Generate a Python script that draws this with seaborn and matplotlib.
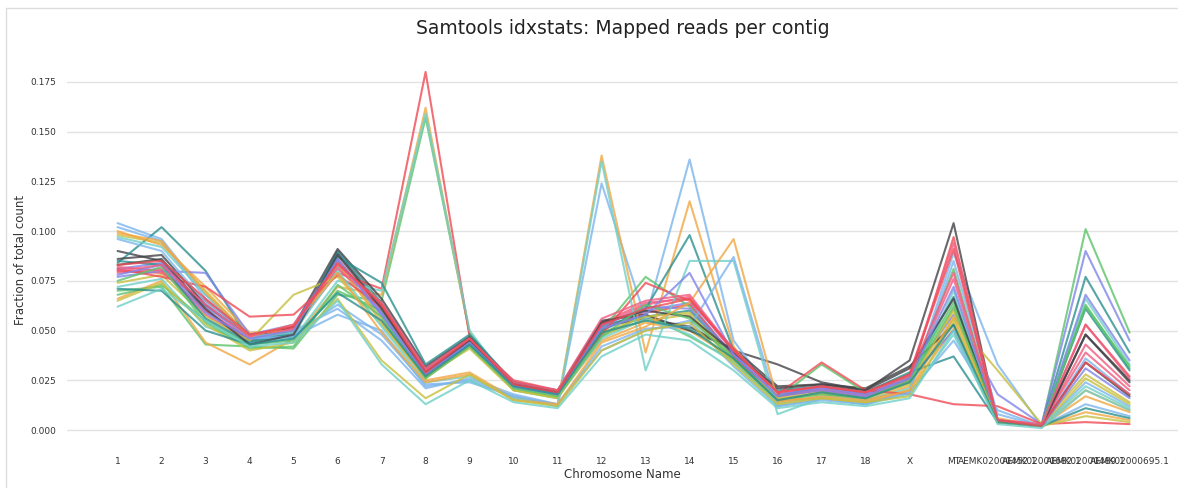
import numpy as np
import pandas as pd
import matplotlib
matplotlib.use("Agg")
import matplotlib.pyplot as plt
from matplotlib.lines import Line2D
import seaborn as sns

categories = [str(i) for i in range(1, 19)] + ["X", "MT", "AEMK02000452.1", "AEMK02000682.1",
                                               "AEMK02000489.1", "AEMK02000695.1"]

s00 = [0.104, 0.096, 0.068, 0.048, 0.050, 0.061, 0.045, 0.021, 0.026, 0.018, 0.013, 0.040, 0.050, 0.055, 0.032, 0.012, 0.016, 0.013, 0.020, 0.089, 0.033, 0.002, 0.024, 0.012]
s01 = [0.090, 0.085, 0.060, 0.045, 0.050, 0.089, 0.062, 0.028, 0.044, 0.022, 0.018, 0.052, 0.056, 0.052, 0.040, 0.033, 0.024, 0.020, 0.035, 0.104, 0.004, 0.002, 0.048, 0.025]
s02 = [0.070, 0.072, 0.043, 0.042, 0.041, 0.068, 0.065, 0.157, 0.049, 0.020, 0.016, 0.047, 0.058, 0.047, 0.035, 0.014, 0.019, 0.016, 0.024, 0.081, 0.005, 0.002, 0.101, 0.049]
s03 = [0.066, 0.075, 0.044, 0.033, 0.046, 0.072, 0.068, 0.162, 0.048, 0.021, 0.017, 0.045, 0.054, 0.050, 0.036, 0.016, 0.018, 0.015, 0.022, 0.061, 0.004, 0.002, 0.020, 0.010]
s04 = [0.081, 0.084, 0.062, 0.046, 0.050, 0.082, 0.058, 0.027, 0.043, 0.021, 0.018, 0.050, 0.060, 0.064, 0.037, 0.017, 0.021, 0.018, 0.027, 0.058, 0.018, 0.003, 0.090, 0.045]
s05 = [0.079, 0.081, 0.058, 0.045, 0.052, 0.086, 0.060, 0.030, 0.045, 0.022, 0.019, 0.054, 0.064, 0.066, 0.039, 0.018, 0.021, 0.018, 0.026, 0.076, 0.004, 0.002, 0.043, 0.022]
s06 = [0.098, 0.094, 0.070, 0.047, 0.049, 0.083, 0.056, 0.026, 0.042, 0.020, 0.016, 0.048, 0.055, 0.058, 0.034, 0.015, 0.019, 0.016, 0.023, 0.056, 0.030, 0.003, 0.028, 0.014]
s07 = [0.084, 0.102, 0.080, 0.045, 0.047, 0.090, 0.064, 0.031, 0.046, 0.023, 0.018, 0.053, 0.057, 0.060, 0.038, 0.017, 0.022, 0.019, 0.028, 0.067, 0.005, 0.002, 0.077, 0.039]
s08 = [0.080, 0.079, 0.065, 0.048, 0.051, 0.079, 0.071, 0.180, 0.047, 0.024, 0.019, 0.051, 0.059, 0.063, 0.037, 0.017, 0.020, 0.017, 0.025, 0.097, 0.005, 0.002, 0.053, 0.027]
s09 = [0.072, 0.076, 0.052, 0.044, 0.046, 0.075, 0.070, 0.159, 0.050, 0.021, 0.017, 0.046, 0.056, 0.048, 0.034, 0.013, 0.017, 0.015, 0.021, 0.070, 0.004, 0.002, 0.066, 0.033]
s10 = [0.102, 0.095, 0.066, 0.046, 0.048, 0.063, 0.048, 0.023, 0.024, 0.017, 0.012, 0.124, 0.056, 0.136, 0.045, 0.015, 0.016, 0.014, 0.019, 0.085, 0.008, 0.002, 0.036, 0.018]
s11 = [0.086, 0.088, 0.063, 0.047, 0.052, 0.091, 0.066, 0.032, 0.047, 0.024, 0.020, 0.055, 0.058, 0.050, 0.041, 0.022, 0.023, 0.021, 0.032, 0.053, 0.004, 0.002, 0.034, 0.017]
s12 = [0.068, 0.073, 0.055, 0.043, 0.045, 0.070, 0.060, 0.029, 0.044, 0.023, 0.018, 0.050, 0.077, 0.062, 0.036, 0.016, 0.033, 0.019, 0.027, 0.064, 0.005, 0.002, 0.063, 0.031]
s13 = [0.100, 0.093, 0.072, 0.049, 0.050, 0.084, 0.054, 0.025, 0.029, 0.016, 0.013, 0.138, 0.039, 0.115, 0.042, 0.014, 0.017, 0.015, 0.020, 0.051, 0.006, 0.002, 0.017, 0.009]
s14 = [0.077, 0.080, 0.079, 0.048, 0.053, 0.085, 0.059, 0.028, 0.043, 0.022, 0.019, 0.052, 0.062, 0.061, 0.038, 0.018, 0.021, 0.018, 0.026, 0.050, 0.004, 0.002, 0.068, 0.035]
s15 = [0.082, 0.080, 0.060, 0.046, 0.051, 0.081, 0.063, 0.030, 0.046, 0.023, 0.019, 0.053, 0.063, 0.067, 0.040, 0.019, 0.022, 0.019, 0.028, 0.094, 0.005, 0.003, 0.039, 0.020]
s16 = [0.074, 0.078, 0.057, 0.045, 0.068, 0.077, 0.053, 0.027, 0.041, 0.020, 0.017, 0.049, 0.057, 0.059, 0.035, 0.016, 0.019, 0.016, 0.024, 0.060, 0.004, 0.002, 0.026, 0.013]
s17 = [0.085, 0.083, 0.056, 0.044, 0.049, 0.087, 0.074, 0.033, 0.048, 0.024, 0.019, 0.050, 0.061, 0.098, 0.040, 0.020, 0.022, 0.019, 0.029, 0.037, 0.004, 0.002, 0.061, 0.030]
s18 = [0.081, 0.077, 0.072, 0.057, 0.058, 0.078, 0.062, 0.028, 0.045, 0.025, 0.020, 0.048, 0.074, 0.065, 0.041, 0.018, 0.034, 0.020, 0.018, 0.013, 0.012, 0.003, 0.004, 0.003]
s19 = [0.097, 0.092, 0.068, 0.047, 0.049, 0.080, 0.052, 0.024, 0.027, 0.016, 0.012, 0.135, 0.030, 0.085, 0.085, 0.008, 0.016, 0.013, 0.018, 0.048, 0.004, 0.002, 0.022, 0.011]
s20 = [0.096, 0.090, 0.064, 0.046, 0.047, 0.058, 0.050, 0.022, 0.025, 0.017, 0.013, 0.042, 0.051, 0.052, 0.087, 0.012, 0.015, 0.013, 0.019, 0.045, 0.010, 0.002, 0.013, 0.007]
s21 = [0.083, 0.086, 0.061, 0.043, 0.048, 0.088, 0.061, 0.029, 0.045, 0.023, 0.019, 0.054, 0.060, 0.057, 0.039, 0.021, 0.023, 0.020, 0.031, 0.066, 0.004, 0.002, 0.048, 0.024]
s22 = [0.075, 0.082, 0.054, 0.041, 0.042, 0.073, 0.057, 0.026, 0.042, 0.021, 0.017, 0.047, 0.063, 0.056, 0.036, 0.015, 0.018, 0.016, 0.025, 0.062, 0.005, 0.002, 0.062, 0.032]
s23 = [0.099, 0.095, 0.069, 0.047, 0.053, 0.079, 0.049, 0.024, 0.028, 0.015, 0.013, 0.044, 0.052, 0.064, 0.096, 0.015, 0.016, 0.014, 0.020, 0.057, 0.004, 0.002, 0.009, 0.005]
s24 = [0.078, 0.083, 0.059, 0.046, 0.050, 0.086, 0.058, 0.028, 0.044, 0.022, 0.018, 0.051, 0.058, 0.079, 0.038, 0.017, 0.020, 0.017, 0.026, 0.072, 0.005, 0.002, 0.031, 0.016]
s25 = [0.080, 0.083, 0.063, 0.047, 0.053, 0.083, 0.064, 0.031, 0.046, 0.024, 0.020, 0.056, 0.065, 0.068, 0.040, 0.019, 0.022, 0.019, 0.027, 0.079, 0.005, 0.003, 0.053, 0.026]
s26 = [0.065, 0.074, 0.053, 0.040, 0.044, 0.066, 0.035, 0.016, 0.028, 0.015, 0.012, 0.040, 0.050, 0.054, 0.033, 0.013, 0.016, 0.014, 0.017, 0.055, 0.004, 0.002, 0.007, 0.004]
s27 = [0.071, 0.070, 0.050, 0.043, 0.046, 0.069, 0.055, 0.027, 0.043, 0.022, 0.018, 0.049, 0.055, 0.051, 0.036, 0.015, 0.019, 0.016, 0.024, 0.053, 0.004, 0.002, 0.011, 0.006]
s28 = [0.083, 0.085, 0.066, 0.048, 0.052, 0.084, 0.063, 0.029, 0.046, 0.023, 0.019, 0.053, 0.061, 0.066, 0.040, 0.019, 0.022, 0.019, 0.028, 0.091, 0.005, 0.002, 0.034, 0.018]
s29 = [0.062, 0.071, 0.055, 0.042, 0.044, 0.065, 0.033, 0.013, 0.025, 0.014, 0.011, 0.037, 0.048, 0.045, 0.030, 0.011, 0.014, 0.012, 0.016, 0.050, 0.003, 0.001, 0.020, 0.010]

series = [s00, s01, s02, s03, s04, s05, s06, s07, s08, s09,
          s10, s11, s12, s13, s14, s15, s16, s17, s18, s19,
          s20, s21, s22, s23, s24, s25, s26, s27, s28, s29]
sample_names = [f"Sample {i + 1}" for i in range(len(series))]

base_colors = ['#7cb5ec', '#434348', '#5cc46a', '#f0a845', '#8085e9',
               '#f15c80', '#c8c040', '#2b908f', '#f04b55', '#6fd0c8']

rows = []
for name, vals in zip(sample_names, series):
    for cat, v in zip(categories, vals):
        rows.append({"Sample": name, "Chromosome Name": cat, "Fraction": v})
df = pd.DataFrame(rows)

sns.set_theme(style="whitegrid")
plt.rcParams['font.family'] = ['DejaVu Sans']

W, H = 1178, 488
fig = plt.figure(figsize=(W / 100, H / 100), dpi=100)
ax_left, ax_right, ax_top, ax_bot = 67, 1178, 54, 446
ax = fig.add_axes([ax_left / W, 1 - ax_bot / H, (ax_right - ax_left) / W, (ax_bot - ax_top) / H])

palette = [base_colors[i % 10] for i in range(len(series))]
sns.lineplot(data=df, x="Chromosome Name", y="Fraction", hue="Sample",
             palette=palette, estimator=None, sort=False, linewidth=1.5,
             alpha=0.8, legend=False, ax=ax)

ax.set_xlim(-1.15, -1.15 + (ax_right - ax_left) / 44.0)
ax.set_ylim(-0.008, 0.189)
ax.set_yticks([0.0, 0.025, 0.05, 0.075, 0.1, 0.125, 0.15, 0.175])
ax.set_yticklabels(["0.000", "0.025", "0.050", "0.075", "0.100", "0.125", "0.150", "0.175"])
ax.grid(axis="y", color="#e3e3e3", linewidth=1.0)
ax.grid(axis="x", visible=False)
for sp in ax.spines.values():
    sp.set_visible(False)
ax.tick_params(axis="both", labelsize=6.5, colors="#333333", length=0)
ax.tick_params(axis="y", pad=8)
ax.tick_params(axis="x", pad=8)

ax.set_xlabel("Chromosome Name", fontsize=8.5, color="#333333")
ax.set_ylabel("Fraction of total count", fontsize=8.5, color="#333333")
ax.xaxis.set_label_coords((622 - ax_left) / (ax_right - ax_left), -(474 - ax_bot) / (ax_bot - ax_top))
ax.yaxis.set_label_coords(-(ax_left - 20) / (ax_right - ax_left), (ax_bot - 260) / (ax_bot - ax_top))
ax.xaxis.label.set_va("center")
ax.yaxis.label.set_va("center")

fig.text(623 / W, 1 - 28 / H, "Samtools idxstats: Mapped reads per contig",
         ha="center", va="center", fontsize=13.5, color="#222222")

# thin frame of the original screenshot
fig.add_artist(Line2D([6 / W, 6 / W], [0, 1 - 8 / H], transform=fig.transFigure, color="#dddddd", linewidth=1))
fig.add_artist(Line2D([6 / W, 1], [1 - 8 / H, 1 - 8 / H], transform=fig.transFigure, color="#dddddd", linewidth=1))

fig.savefig("out.png", dpi=100)
